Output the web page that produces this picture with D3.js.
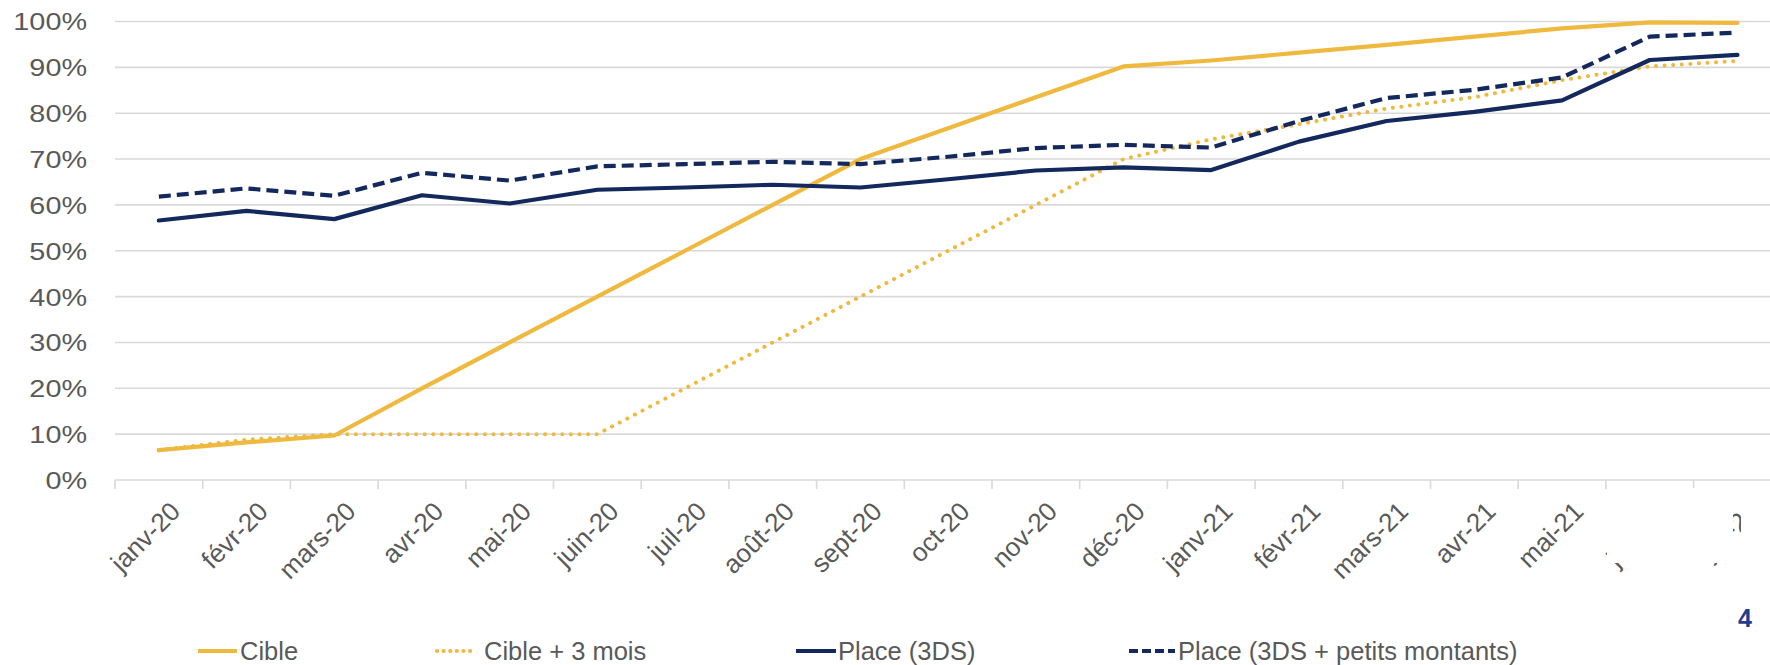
<!DOCTYPE html>
<html>
<head>
<meta charset="utf-8">
<script src="https://cdn.jsdelivr.net/npm/d3@7"></script>
<style>
  html, body { margin: 0; padding: 0; background: #fff; overflow: hidden; }
  svg { display: block; }
</style>
</head>
<body>
<svg id="chart" width="1770" height="665"></svg>
<script>
// Monthly categories
const months = ["janv-20", "févr-20", "mars-20", "avr-20", "mai-20", "juin-20", "juil-20", "août-20",
  "sept-20", "oct-20", "nov-20", "déc-20", "janv-21", "févr-21", "mars-21", "avr-21", "mai-21",
  "juin-21", "juil-21"];

// Series values, in percent
const cible       = [6.5, 8.2, 9.7, 20, 30, 40, 50, 60, 70, 76.7, 83.5, 90.2, 91.5, 93.2, 94.9, 96.7, 98.5, 99.8, 99.7];
const cible3mois  = [6.5, 8.8, 10, 10, 10, 10, 20, 30, 40, 50, 60, 70, 74.3, 77.6, 81.0, 83.5, 87.2, 90.2, 91.4];
const place3ds    = [56.6, 58.7, 56.9, 62.1, 60.3, 63.3, 63.8, 64.4, 63.8, 65.6, 67.5, 68.2, 67.6, 73.8, 78.3, 80.3, 82.8, 91.6, 92.7];
const placePetits = [61.8, 63.6, 62.0, 67.0, 65.3, 68.4, 68.9, 69.4, 68.9, 70.5, 72.4, 73.1, 72.5, 78.3, 83.3, 85.1, 87.8, 96.7, 97.6];

// Axis tick values and legend labels
const yTicks = [0, 10, 20, 30, 40, 50, 60, 70, 80, 90, 100];
const legendLabels = ["Cible", "Cible + 3 mois", "Place (3DS)", "Place (3DS + petits montants)"];
const pageNumber = "4";

// ---- layout & style ----
const W = 1770, H = 665;
const plotLeft = 115, plotTop = 21.5, plotBottom = 480;
const bandW = 87.7;
const FONT = "'Liberation Sans', Arial, Helvetica, sans-serif";
const GREY_TEXT = "#595959";
const GRID = "#d9d9d9";
const YELLOW = "#EFB93F";
const NAVY = "#13285C";

const svg = d3.select("#chart");

const x = d3.scaleBand()
  .domain(months)
  .range([plotLeft, plotLeft + bandW * months.length])
  .padding(0);

const y = d3.scaleLinear()
  .domain([0, 100])
  .range([plotBottom, plotTop]);

// Horizontal gridlines
svg.append("g")
  .selectAll("line")
  .data(yTicks.filter(d => d > 0))
  .join("line")
  .attr("x1", plotLeft).attr("x2", W)
  .attr("y1", d => y(d)).attr("y2", d => y(d))
  .attr("stroke", GRID).attr("stroke-width", 1.6);

// Y axis (labels only)
const yAxis = svg.append("g")
  .attr("transform", `translate(${plotLeft},0)`)
  .call(d3.axisLeft(y).tickValues(yTicks).tickFormat(d => d + "%").tickSize(0).tickPadding(0));
yAxis.select(".domain").remove();
yAxis.selectAll("text")
  .attr("x", 0).attr("dy", "0.35em")
  .attr("transform", "translate(-28,0) scale(1.2,1)")
  .attr("text-anchor", "end")
  .style("font-family", FONT).style("font-size", "24px").attr("fill", GREY_TEXT);

// X axis baseline and tick marks between categories
svg.append("line")
  .attr("x1", plotLeft).attr("x2", W)
  .attr("y1", y(0)).attr("y2", y(0))
  .attr("stroke", GRID).attr("stroke-width", 1.6);

const boundaries = months.map(m => x(m)).concat([x(months[months.length - 1]) + x.bandwidth()]);
svg.append("g")
  .selectAll("line")
  .data(boundaries)
  .join("line")
  .attr("x1", d => d).attr("x2", d => d)
  .attr("y1", y(0)).attr("y2", y(0) + 9)
  .attr("stroke", GRID).attr("stroke-width", 1.6);

// X axis labels, rotated 45 degrees
const xAxis = svg.append("g")
  .attr("transform", `translate(0,${y(0)})`)
  .call(d3.axisBottom(x).tickSize(0).tickPadding(0));
xAxis.select(".domain").remove();
xAxis.selectAll("text")
  .attr("x", 0).attr("y", 0).attr("dy", 0)
  .attr("transform", "translate(23,33) rotate(-45)")
  .attr("text-anchor", "end")
  .style("font-family", FONT).style("font-size", "26px").attr("fill", GREY_TEXT);

// Series lines
const cx = (d, i) => x(months[i]) + x.bandwidth() / 2;
const line = d3.line().x(cx).y(d => y(d));

const series = [
  { values: cible3mois,  color: YELLOW, width: 4,   dash: "0.1,8.5", cap: "round" },
  { values: cible,       color: YELLOW, width: 4.2, dash: null,      cap: "round" },
  { values: placePetits, color: NAVY,   width: 4.2, dash: "12,6",    cap: "butt" },
  { values: place3ds,    color: NAVY,   width: 4.2, dash: null,      cap: "round" }
];

svg.append("g")
  .selectAll("path")
  .data(series)
  .join("path")
  .attr("d", d => line(d.values))
  .attr("fill", "none")
  .attr("stroke", d => d.color)
  .attr("stroke-width", d => d.width)
  .attr("stroke-linejoin", "round")
  .attr("stroke-linecap", d => d.cap)
  .attr("stroke-dasharray", d => d.dash);

// White covers over the last two month labels
const covers = [
  { x0: 1607, y0: 488, x1: 1733, y1: 563 },
  { x0: 1741, y0: 486, x1: W,    y1: 598 }
];
svg.append("g")
  .selectAll("rect")
  .data(covers)
  .join("rect")
  .attr("x", d => d.x0).attr("y", d => d.y0)
  .attr("width", d => d.x1 - d.x0).attr("height", d => d.y1 - d.y0)
  .attr("fill", "#fff");

// Legend
const legendItems = [
  { label: legendLabels[0], color: YELLOW, dash: null,      cap: "butt",  x0: 198,  x1: 237,  tx: 240 },
  { label: legendLabels[1], color: YELLOW, dash: "0.1,6.5", cap: "round", x0: 437,  x1: 474,  tx: 484 },
  { label: legendLabels[2], color: NAVY,   dash: null,      cap: "butt",  x0: 796,  x1: 836,  tx: 838 },
  { label: legendLabels[3], color: NAVY,   dash: "9,4",     cap: "butt",  x0: 1129, x1: 1175, tx: 1178 }
];
const legendY = 651;
const lg = svg.append("g").selectAll("g").data(legendItems).join("g");
lg.append("line")
  .attr("x1", d => d.x0).attr("x2", d => d.x1)
  .attr("y1", legendY).attr("y2", legendY)
  .attr("stroke", d => d.color).attr("stroke-width", 4.2)
  .attr("stroke-linecap", d => d.cap)
  .attr("stroke-dasharray", d => d.dash);
lg.append("text")
  .attr("transform", d => `translate(${d.tx},${legendY}) scale(1.02,1)`)
  .attr("dy", "0.35em")
  .style("font-family", FONT).style("font-size", "25px").attr("fill", GREY_TEXT)
  .text(d => d.label);

// Page number
svg.append("text")
  .attr("x", 1745).attr("y", 627)
  .attr("text-anchor", "middle")
  .style("font-family", FONT).style("font-size", "25px").style("font-weight", "bold")
  .attr("fill", "#1f3c8f")
  .text(pageNumber);
</script>
</body>
</html>
